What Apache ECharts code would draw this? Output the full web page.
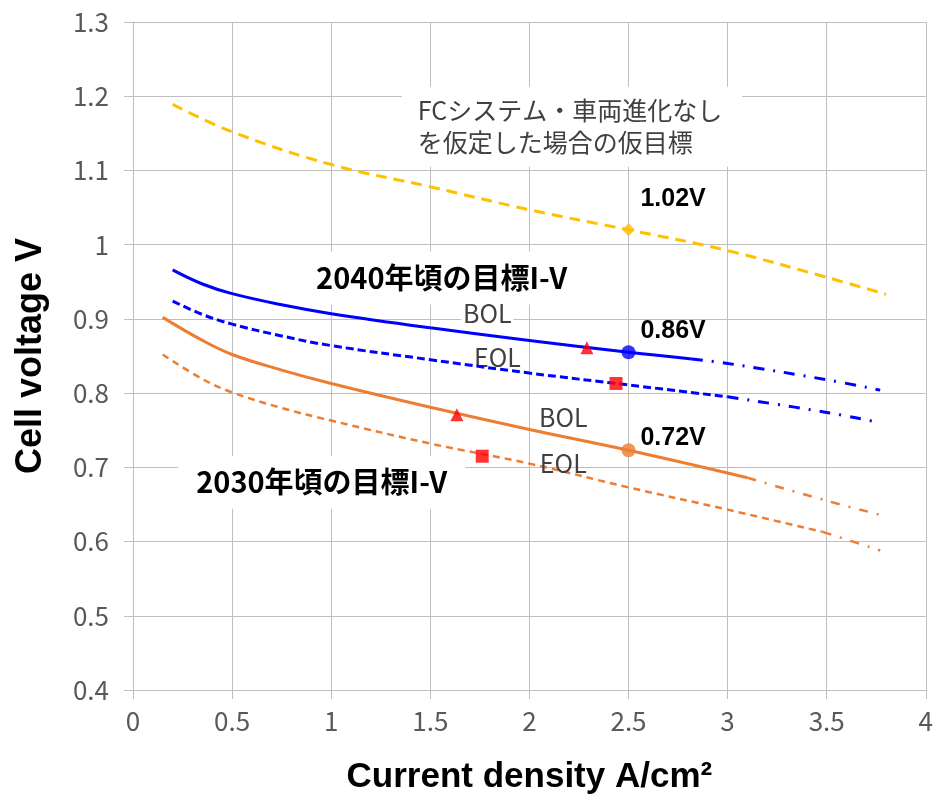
<!DOCTYPE html>
<html><head><meta charset="utf-8">
<script src="https://cdn.jsdelivr.net/npm/echarts@6/dist/echarts.min.js"></script>
<style>html,body{margin:0;padding:0;background:#fff}#c{width:936px;height:803px}</style>
</head><body><div id="c"></div>
<script>
// ---- data ----
const xMin = 0, xMax = 4, xStep = 0.5;
const yMin = 0.4, yMax = 1.3, yStep = 0.1;

const yellowX = [0.2, 0.5, 1.0, 1.5, 2.0, 2.5, 3.0, 3.5, 3.8];
const yellowY = [1.189, 1.152, 1.108, 1.078, 1.047, 1.020, 0.992, 0.956, 0.933];

const blueBolX = [0.2, 0.35, 0.5, 0.75, 1.0, 1.5, 2.0, 2.5, 2.82];
const blueBolY = [0.966, 0.947, 0.934, 0.919, 0.907, 0.888, 0.871, 0.855, 0.846];
const blueBolExtX = [2.82, 3.0, 3.5, 3.77];
const blueBolExtY = [0.846, 0.840, 0.818, 0.804];

const blueEolX = [0.2, 0.35, 0.5, 0.75, 1.0, 1.5, 2.0, 2.5, 3.0];
const blueEolY = [0.924, 0.906, 0.893, 0.877, 0.864, 0.845, 0.827, 0.811, 0.795];
const blueEolExtX = [3.0, 3.5, 3.77];
const blueEolExtY = [0.795, 0.774, 0.760];

const orangeBolX = [0.15, 0.35, 0.5, 0.75, 1.0, 1.5, 2.0, 2.5, 3.1];
const orangeBolY = [0.902, 0.871, 0.852, 0.831, 0.813, 0.781, 0.751, 0.723, 0.686];
const orangeBolExtX = [3.1, 3.5, 3.8];
const orangeBolExtY = [0.686, 0.655, 0.634];

const orangeEolX = [0.15, 0.35, 0.5, 0.75, 1.0, 1.5, 2.0, 2.5, 3.0, 3.48];
const orangeEolY = [0.852, 0.819, 0.801, 0.780, 0.763, 0.732, 0.705, 0.673, 0.643, 0.613];
const orangeEolExtX = [3.48, 3.77];
const orangeEolExtY = [0.613, 0.588];

const targetYellow = [2.5, 1.02];
const targetBlue = [2.5, 0.855];
const targetOrange = [2.5, 0.723];
const bolTriangles = [[2.29, 0.861], [1.634, 0.771]];
const eolSquares = [[2.437, 0.813], [1.762, 0.715]];

const valueLabels = ['1.02V', '0.86V', '0.72V'];
const noteText = ['FCシステム・車両進化なし', 'を仮定した場合の仮目標'];
const label2040 = '2040年頃の目標I-V';
const label2030 = '2030年頃の目標I-V';
const xTitle = 'Current density A/cm²';
const yTitle = 'Cell voltage V';

// ---- helpers ----
const zip = (xs, ys) => xs.map((x, i) => [x, ys[i]]);
const JP = '"Noto Sans CJK JP", "Noto Sans", sans-serif';
const AR = '"Liberation Sans", Arial, sans-serif';

function lineSeries(name, xs, ys, color, width, type) {
  return {
    name, type: 'line', data: zip(xs, ys), smooth: 0.4,
    showSymbol: false, symbol: 'none',
    lineStyle: { color, width, type, cap: 'butt' }, z: 3, silent: true, animation: false
  };
}
function markerSeries(data, symbol, size, color) {
  return { type: 'scatter', data, symbol, symbolSize: size, itemStyle: { color }, z: 5, silent: true, animation: false };
}

const chart = echarts.init(document.getElementById('c'), null, { renderer: 'canvas' });
const gridCol = '#bfbfbf';
chart.setOption({
  animation: false,
  grid: { left: 133, right: 9, top: 22, bottom: 113, containLabel: false },
  xAxis: {
    type: 'value', min: xMin, max: xMax, interval: xStep,
    name: xTitle, nameLocation: 'middle', nameGap: 70,
    nameTextStyle: { fontFamily: AR, fontWeight: 'bold', fontSize: 35, color: '#000' },
    axisLine: { show: true, lineStyle: { color: gridCol, width: 1 } },
    axisTick: { show: true, length: 9, lineStyle: { color: gridCol } },
    axisLabel: { fontFamily: JP, fontSize: 26, color: '#595959', margin: 18 },
    splitLine: { show: true, lineStyle: { color: gridCol, width: 1 } }
  },
  yAxis: {
    type: 'value', min: yMin, max: yMax, interval: yStep,
    name: yTitle, nameLocation: 'middle', nameGap: 84, nameRotate: 90,
    nameTextStyle: { fontFamily: AR, fontWeight: 'bold', fontSize: 36, color: '#000' },
    axisLine: { show: true, lineStyle: { color: gridCol, width: 1 } },
    axisTick: { show: true, length: 9, lineStyle: { color: gridCol } },
    axisLabel: { fontFamily: JP, fontSize: 26, color: '#595959', margin: 24,
      formatter: v => String(Math.round(v * 10) / 10) },
    splitLine: { show: true, lineStyle: { color: gridCol, width: 1 } }
  },
  series: [
    lineSeries('yellow', yellowX, yellowY, '#FFC000', 3, [11, 7]),
    lineSeries('blueBOL', blueBolX, blueBolY, '#0000FF', 3, 'solid'),
    lineSeries('blueBOLext', blueBolExtX, blueBolExtY, '#0000FF', 3, [11, 9, 2, 9]),
    lineSeries('blueEOL', blueEolX, blueEolY, '#0000FF', 3, [8, 4]),
    lineSeries('blueEOLext', blueEolExtX, blueEolExtY, '#0000FF', 3, [11, 9, 2, 9]),
    lineSeries('orangeBOL', orangeBolX, orangeBolY, '#ED7D31', 3, 'solid'),
    lineSeries('orangeBOLext', orangeBolExtX, orangeBolExtY, '#ED7D31', 2.5, [9, 9, 2, 9]),
    lineSeries('orangeEOL', orangeEolX, orangeEolY, '#ED7D31', 2.5, [7, 5]),
    lineSeries('orangeEOLext', orangeEolExtX, orangeEolExtY, '#ED7D31', 2.5, [9, 9, 2, 9]),
    markerSeries([targetYellow], 'diamond', 13, '#FFC000'),
    markerSeries([targetBlue], 'circle', 14, '#0000FF'),
    markerSeries([targetOrange], 'circle', 14, '#ED7D31'),
    markerSeries(bolTriangles, 'triangle', 13, '#FF0000'),
    markerSeries(eolSquares, 'rect', 13, '#FF0000')
  ]
});

// ---- annotations placed through the grid's coordinate system ----
const px = p => chart.convertToPixel({ gridIndex: 0 }, p);
function txt(pos, text, font, fill, opts) {
  const p = px(pos);
  return Object.assign({
    type: 'text', x: p[0], y: p[1], z: 1, silent: true,
    style: Object.assign({ text, font, fill, align: 'center', verticalAlign: 'middle' }, (opts && opts.style) || {})
  }, (opts && opts.el) || {});
}
const annotations = [
  txt([1.356, 1.159], noteText.join('\n'), 'normal 25px ' + JP, '#404040',
      { style: { align: 'left', lineHeight: 32, backgroundColor: '#fff', padding: [8, 20, 8, 16] } }),
  txt([1.557, 0.955], label2040, 'bold 29px ' + JP, '#000',
      { style: { backgroundColor: '#fff', padding: [12, 10] } }),
  txt([0.952, 0.680], label2030, 'bold 29px ' + JP, '#000',
      { style: { backgroundColor: '#fff', padding: [12, 18] } }),
  txt([1.788, 0.907], 'BOL', 'normal 25px ' + JP, '#404040',
      { style: { backgroundColor: '#fff', padding: [0, 2] } }),
  txt([1.839, 0.848], 'EOL', 'normal 25px ' + JP, '#404040'),
  txt([2.171, 0.767], 'BOL', 'normal 25px ' + JP, '#404040'),
  txt([2.171, 0.705], 'EOL', 'normal 25px ' + JP, '#404040', { el: { z: 6 } }),
  txt([2.725, 1.061], valueLabels[0], 'bold 25px ' + AR, '#000', { el: { z: 6 } }),
  txt([2.725, 0.883], valueLabels[1], 'bold 25px ' + AR, '#000', { el: { z: 6 } }),
  txt([2.725, 0.739], valueLabels[2], 'bold 25px ' + AR, '#000', { el: { z: 6 } })
];
chart.setOption({ graphic: { elements: annotations } });
</script>
</body></html>
